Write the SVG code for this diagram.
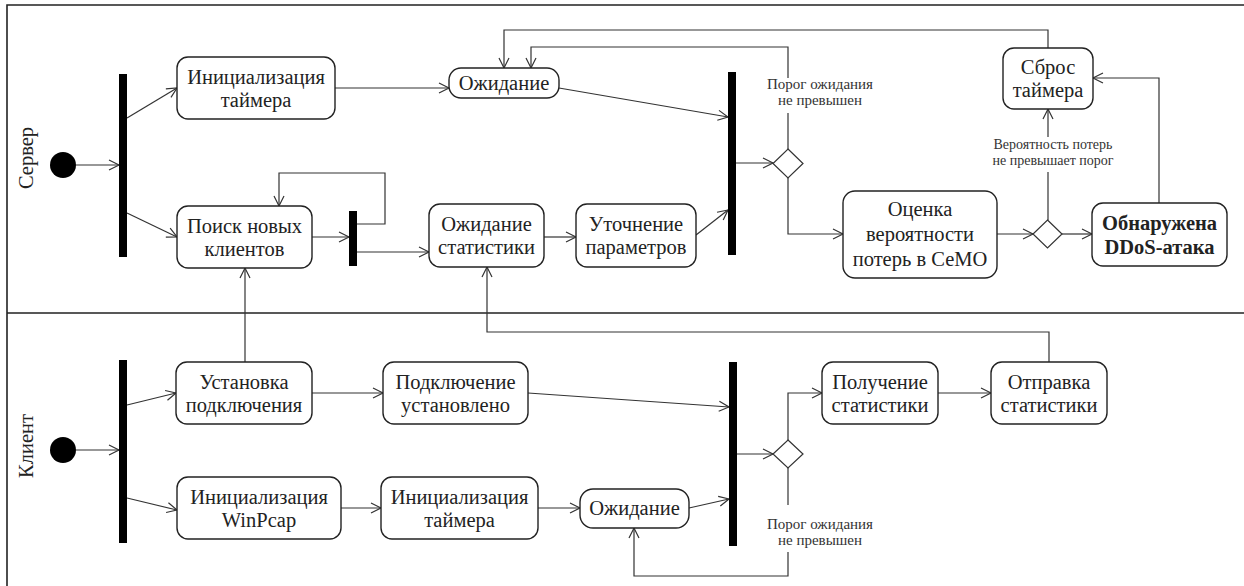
<svg xmlns="http://www.w3.org/2000/svg" width="1244" height="586" viewBox="0 0 1244 586">
<defs>
<marker id="arr" markerUnits="userSpaceOnUse" markerWidth="14" markerHeight="14" refX="11" refY="6" orient="auto">
<path d="M1,1 L11,6 L1,11" fill="none" stroke="#333" stroke-width="1.2"/>
</marker>
<style>
.box{fill:#fff;stroke:#222;stroke-width:1.4}
.bar{fill:#000}
.t{font-family:"Liberation Serif","Times New Roman",serif;font-size:20.5px;fill:#222;text-anchor:middle}
.b{font-weight:bold}
.s{font-family:"Liberation Serif","Times New Roman",serif;font-size:15px;fill:#333;text-anchor:middle}
.s2{font-family:"Liberation Serif","Times New Roman",serif;font-size:14px;fill:#333;text-anchor:middle}
.lane{font-family:"Liberation Serif","Times New Roman",serif;font-size:20.5px;fill:#222;text-anchor:middle}
.c{fill:none;stroke:#333;stroke-width:1.2}
.ca{fill:none;stroke:#333;stroke-width:1.2;marker-end:url(#arr)}
.frame{fill:none;stroke:#222;stroke-width:1.6}
</style>
</defs>
<rect width="1244" height="586" fill="#fff"/>
<g id="lanes">
<path class="frame" d="M7,586 V5 H1244 M7,313 H1244"/>
<text class="lane" transform="translate(33,158) rotate(-90)">Сервер</text>
<text class="lane" transform="translate(33,446) rotate(-90)">Клиент</text>
</g>
<g id="connectors">
<path class="ca" d="M76,165 H119"/>
<path class="ca" d="M127,118 L177,88"/>
<path class="ca" d="M127,213 L177,237"/>
<path class="ca" d="M335,88 H449"/>
<path class="ca" d="M312,237 H349"/>
<path class="ca" d="M357,224 H385 V173 H279 V206"/>
<path class="ca" d="M357,252 H429"/>
<path class="ca" d="M544,237 H576"/>
<path class="ca" d="M696,235 L728,210"/>
<path class="ca" d="M559,88 L728,117"/>
<path class="ca" d="M736,163 H773"/>
<path class="c" d="M788,149 V113"/>
<path class="ca" d="M788,78 V47 H531 V68"/>
<path class="ca" d="M788,178 V234 H843"/>
<path class="ca" d="M997,234 H1033"/>
<path class="ca" d="M1062,234 H1092"/>
<path class="c" d="M1048,220 V172"/>
<path class="ca" d="M1048,137 V109"/>
<path class="ca" d="M1159,203 V78 H1093"/>
<path class="ca" d="M1048,48 V30 H504 V68"/>
<path class="ca" d="M76,450 H119"/>
<path class="ca" d="M127,405 L176,393"/>
<path class="ca" d="M127,498 L177,510"/>
<path class="ca" d="M245,362 V268"/>
<path class="ca" d="M312,393 H383"/>
<path class="ca" d="M341,508 H381"/>
<path class="ca" d="M538,508 H580"/>
<path class="ca" d="M528,393 L729,407"/>
<path class="ca" d="M689,508 L729,499"/>
<path class="ca" d="M737,454 H773"/>
<path class="ca" d="M788,440 V393 H822"/>
<path class="ca" d="M938,393 H991"/>
<path class="c" d="M788,468 V505"/>
<path class="ca" d="M788,552 V576 H634 V528"/>
<path class="ca" d="M1049,362 V332 H487 V267"/>
<text class="s" x="820" y="89">Порог ожидания</text>
<text class="s" x="820" y="105">не превышен</text>
<text class="s2" x="1053" y="149">Вероятность потерь</text>
<text class="s2" x="1053" y="165">не превышает порог</text>
<text class="s" x="820" y="529">Порог ожидания</text>
<text class="s" x="820" y="545">не превышен</text>
</g>
<g id="s_start"><circle cx="63" cy="165" r="13" fill="#000"/></g>
<g id="s_fork"><rect class="bar" x="119" y="74" width="8" height="183"/></g>
<g id="s_init_timer"><rect class="box" x="177" y="57" width="158" height="62" rx="11"/><text class="t" x="256" y="84">Инициализация</text><text class="t" x="256" y="107">таймера</text></g>
<g id="s_search"><rect class="box" x="177" y="206" width="135" height="62" rx="11"/><text class="t" x="244.5" y="233">Поиск новых</text><text class="t" x="244.5" y="256">клиентов</text></g>
<g id="s_fork2"><rect class="bar" x="349" y="211" width="8" height="55"/></g>
<g id="s_wait"><rect class="box" x="449" y="68" width="110" height="30" rx="12"/><text class="t" x="504" y="90">Ожидание</text></g>
<g id="s_wait_stat"><rect class="box" x="429" y="204" width="115" height="63" rx="11"/><text class="t" x="486.5" y="231">Ожидание</text><text class="t" x="486.5" y="254">статистики</text></g>
<g id="s_refine"><rect class="box" x="576" y="204" width="120" height="63" rx="11"/><text class="t" x="636" y="231">Уточнение</text><text class="t" x="636" y="254">параметров</text></g>
<g id="s_join"><rect class="bar" x="728" y="72" width="8" height="183"/></g>
<g id="s_dec1"><path d="M788,149 L803,163.5 L788,178 L773,163.5 Z" fill="#fff" stroke="#333" stroke-width="1.2"/></g>
<g id="s_eval"><rect class="box" x="843" y="191" width="154" height="87" rx="12"/><text class="t" x="920" y="216">Оценка</text><text class="t" x="920" y="241">вероятности</text><text class="t" x="920" y="266">потерь в СеМО</text></g>
<g id="s_dec2"><path d="M1047.5,220 L1062,234 L1047.5,248 L1033,234 Z" fill="#fff" stroke="#333" stroke-width="1.2"/></g>
<g id="s_reset"><rect class="box" x="1003" y="48" width="90" height="61" rx="11"/><text class="t" x="1048" y="74">Сброс</text><text class="t" x="1048" y="97">таймера</text></g>
<g id="s_ddos"><rect class="box" x="1092" y="203" width="135" height="63" rx="11"/><text class="t b" x="1159.5" y="230">Обнаружена</text><text class="t b" x="1159.5" y="254">DDoS-атака</text></g>
<g id="c_start"><circle cx="63" cy="450" r="13" fill="#000"/></g>
<g id="c_fork"><rect class="bar" x="119" y="360" width="8" height="183"/></g>
<g id="c_connect"><rect class="box" x="176" y="362" width="136" height="62" rx="11"/><text class="t" x="244" y="389">Установка</text><text class="t" x="244" y="412">подключения</text></g>
<g id="c_connected"><rect class="box" x="383" y="362" width="145" height="62" rx="11"/><text class="t" x="455.5" y="389">Подключение</text><text class="t" x="455.5" y="412">установлено</text></g>
<g id="c_winpcap"><rect class="box" x="177" y="477" width="164" height="62" rx="11"/><text class="t" x="259" y="504">Инициализация</text><text class="t" x="259" y="527">WinPcap</text></g>
<g id="c_init_timer"><rect class="box" x="381" y="477" width="157" height="62" rx="11"/><text class="t" x="459.5" y="504">Инициализация</text><text class="t" x="459.5" y="527">таймера</text></g>
<g id="c_wait"><rect class="box" x="580" y="489" width="109" height="39" rx="13"/><text class="t" x="634.5" y="515">Ожидание</text></g>
<g id="c_join"><rect class="bar" x="729" y="362" width="8" height="184"/></g>
<g id="c_dec"><path d="M788,440 L803,454 L788,468 L773,454 Z" fill="#fff" stroke="#333" stroke-width="1.2"/></g>
<g id="c_receive"><rect class="box" x="822" y="362" width="116" height="62" rx="11"/><text class="t" x="880" y="389">Получение</text><text class="t" x="880" y="412">статистики</text></g>
<g id="c_send"><rect class="box" x="991" y="362" width="116" height="62" rx="11"/><text class="t" x="1049" y="389">Отправка</text><text class="t" x="1049" y="412">статистики</text></g>
</svg>
